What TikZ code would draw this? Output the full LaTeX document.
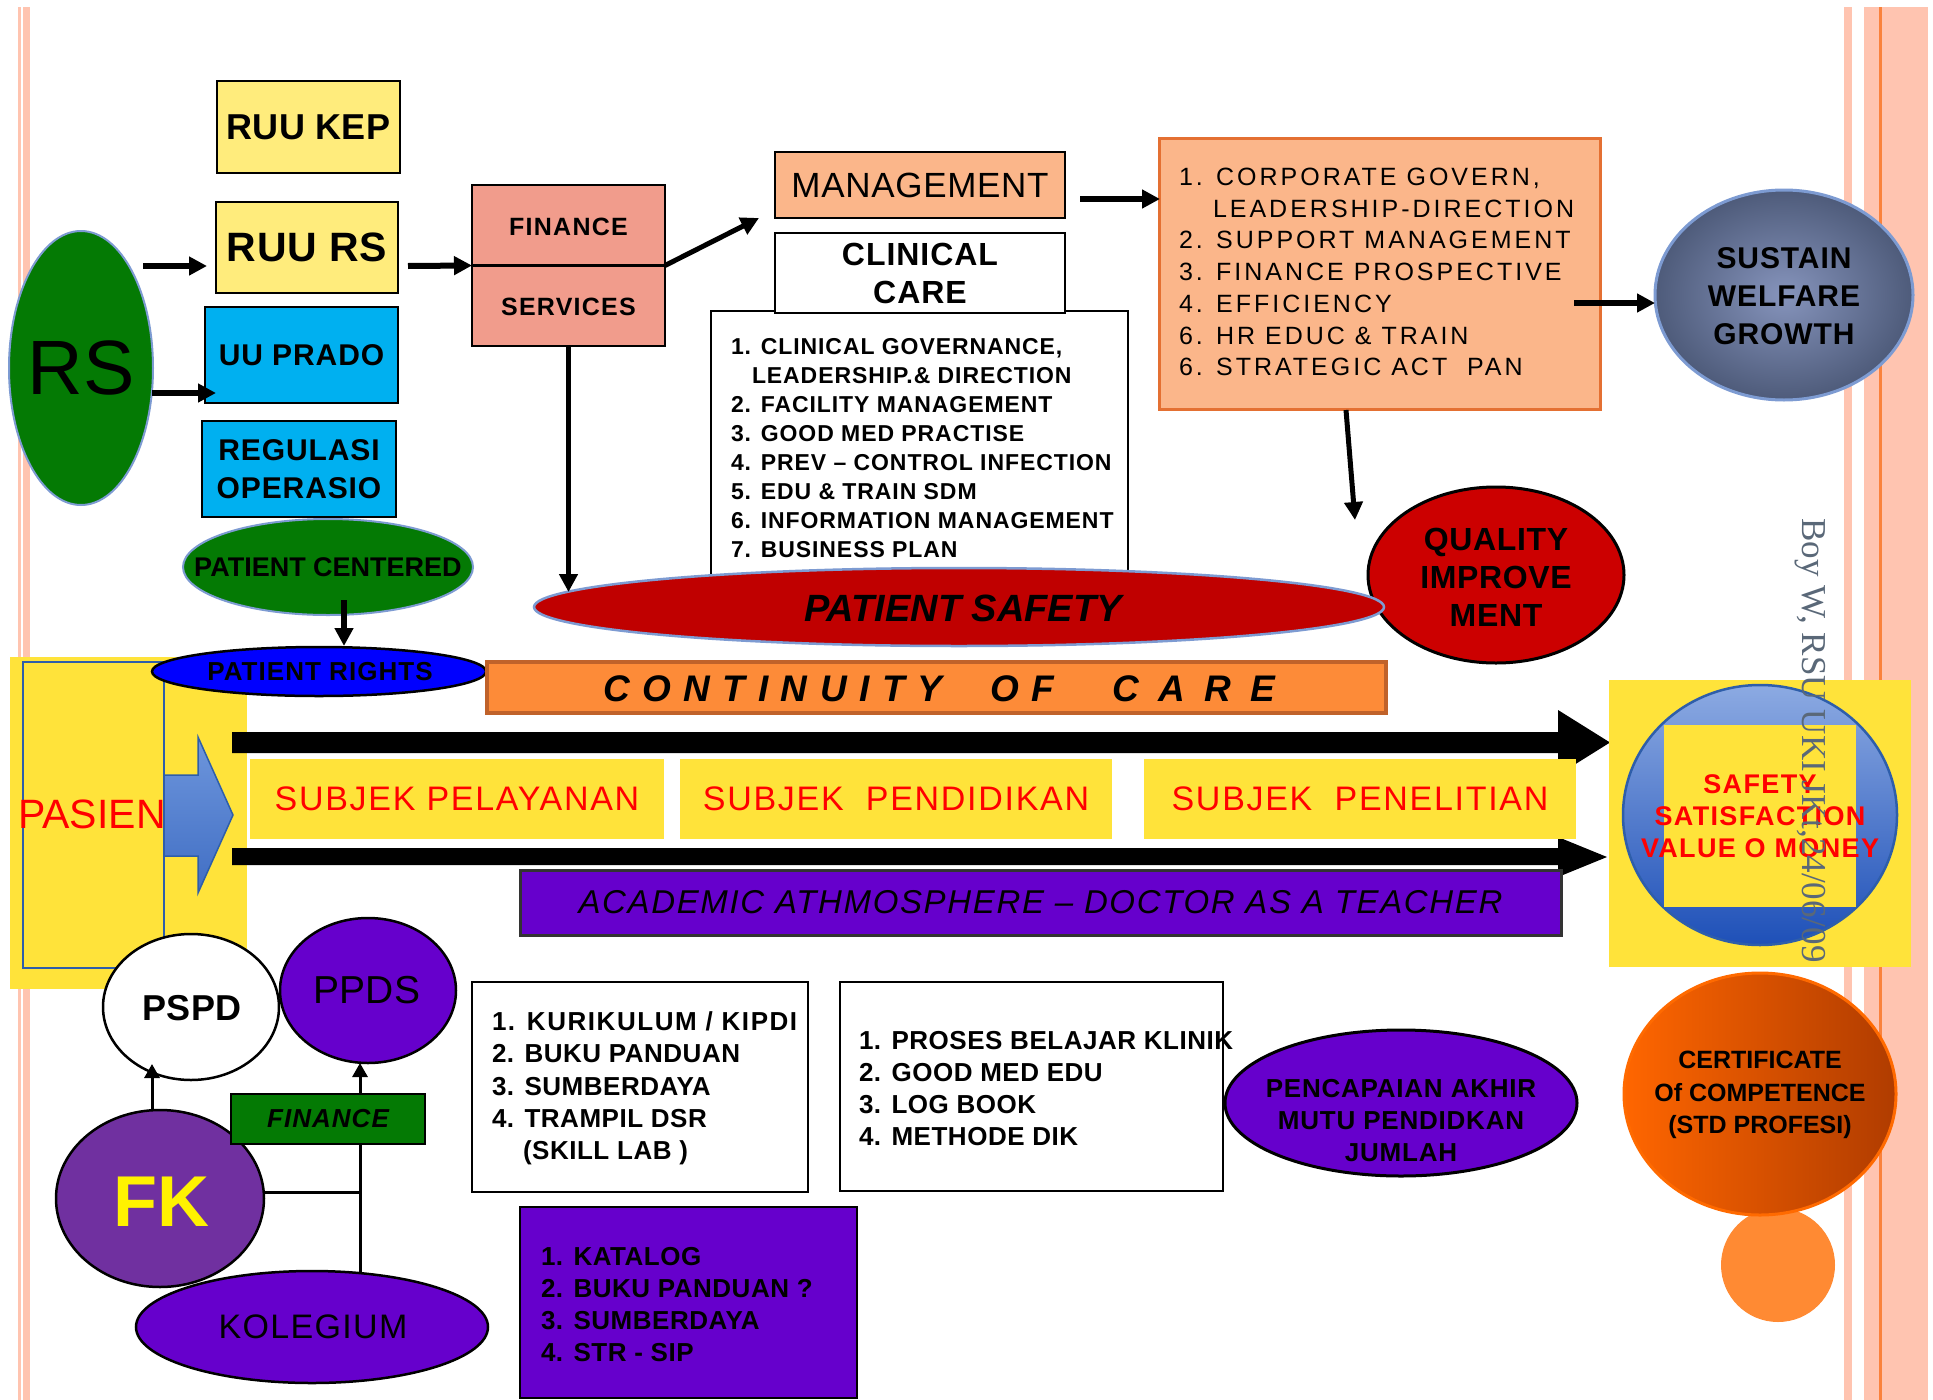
\documentclass[tikz,border=0pt]{standalone}
\usepackage{fontspec}
\setmainfont{Liberation Sans}
\newfontfamily\serifw{Liberation Serif}
\usetikzlibrary{shapes.geometric,arrows.meta}
\newcommand{\fsz}[2]{\fontsize{#1pt}{#2pt}\selectfont}
\newcommand{\lsp}[1]{\addfontfeature{LetterSpace=#1}}
\definecolor{stripPink}{RGB}{255,196,176}
\definecolor{stripOrange}{RGB}{250,130,60}
\definecolor{ruuYellow}{RGB}{255,236,124}
\definecolor{cyanBox}{RGB}{0,176,240}
\definecolor{salmon}{RGB}{241,156,140}
\definecolor{peach}{RGB}{251,182,138}
\definecolor{peachEdge}{RGB}{228,112,50}
\definecolor{dkGreen}{RGB}{4,122,4}
\definecolor{edgeBlue}{RGB}{125,155,210}
\definecolor{sustLight}{RGB}{134,148,188}
\definecolor{sustDark}{RGB}{78,91,122}
\definecolor{qualRed}{RGB}{204,0,0}
\definecolor{psRed}{RGB}{192,0,0}
\definecolor{brightYellow}{RGB}{255,227,58}
\definecolor{contOrange}{RGB}{253,139,56}
\definecolor{contEdge}{RGB}{192,98,42}
\definecolor{purp}{RGB}{102,0,204}
\definecolor{fkPurple}{RGB}{112,48,160}
\definecolor{blueTop}{RGB}{110,150,220}
\definecolor{blueBot}{RGB}{64,110,196}
\definecolor{blueEdge}{RGB}{46,94,170}
\definecolor{circTop}{RGB}{140,170,226}
\definecolor{circBot}{RGB}{30,80,184}
\definecolor{certLight}{RGB}{255,102,0}
\definecolor{certDark}{RGB}{176,60,0}
\definecolor{certEdge}{RGB}{255,106,0}
\definecolor{smallOrange}{RGB}{255,138,51}
\definecolor{stampGray}{RGB}{90,104,120}
\definecolor{pureBlue}{RGB}{0,0,255}
\begin{document}
\begin{tikzpicture}[x=1pt,y=-1pt,
  every node/.style={inner sep=0pt,outer sep=0pt},
  bigarrow/.style={line width=6pt,-{Triangle[length=18pt,width=18pt]}},
  thinarrow/.style={line width=3pt,-{Triangle[length=14pt,width=15pt]}},
  sqbox/.style={rectangle,draw=black,line width=2.5pt},
  oval/.style={ellipse,draw=black,line width=2.5pt},
]
\useasboundingbox (0,0) rectangle (1933,1400);
\fill[white] (0,0) rectangle (1933,1400);
% side strips
\fill[stripPink] (18,7) rectangle (21,1400);
\fill[stripPink] (23,7) rectangle (30,1400);
\fill[stripPink] (1844,7) rectangle (1852,1400);
\fill[stripPink] (1864,7) rectangle (1928,1400);
\fill[stripOrange] (1879,7) rectangle (1882,1400);

% ---- top left
\node[ellipse,draw=edgeBlue,line width=2pt,fill=dkGreen,minimum width=144pt,minimum height=274pt] (rs) at (81,368) {};
\node[font=\fsz{77}{77}] (rstxt) at (81,368) {RS};
\node[sqbox,fill=ruuYellow,minimum width=183pt,minimum height=92pt,font=\fsz{36}{36}\bfseries\lsp{1}] (ruukep) at (308.5,127) {RUU KEP};
\node[sqbox,fill=ruuYellow,minimum width=182pt,minimum height=91pt,font=\fsz{41}{41}\bfseries\lsp{2}] (ruurs) at (307,247.5) {RUU RS};
\node[sqbox,fill=cyanBox,minimum width=193pt,minimum height=96pt,font=\fsz{30}{30}\bfseries\lsp{3}] (uuprado) at (301.5,355) {UU PRADO};
\node[sqbox,fill=cyanBox,minimum width=194pt,minimum height=96pt,align=center,font=\fsz{30}{38}\bfseries\lsp{3}] (regulasi) at (299,469) {REGULASI\\OPERASIO};

\node[sqbox,fill=salmon,minimum width=193pt,minimum height=161pt] (finserv) at (568.5,265.5) {};
\draw[line width=2.5pt] (finserv.west) -- (finserv.east);
\node[font=\fsz{25}{25}\bfseries\lsp{5}] (fintxt) at (568.5,227) {FINANCE};
\node[font=\fsz{25}{25}\bfseries\lsp{5}] (servtxt) at (568.5,307) {SERVICES};

\coordinate (rsA) at (143,266);
\coordinate (ruuIn) at (207,266);
\draw[bigarrow] (rsA) -- (ruuIn);
\coordinate (rsB) at (152,393);
\coordinate (pradoIn) at (216,393);
\draw[bigarrow] (rsB) -- (pradoIn);
\coordinate (ruuOut) at (408,266);
\draw[bigarrow] (ruuOut) -- (finserv.west);

% ---- management / clinical
\node[sqbox,fill=peach,minimum width=290pt,minimum height=66pt,font=\fsz{35}{35}\lsp{2}] (mgmt) at (920,185) {MANAGEMENT};
\coordinate (mgmtIn) at (759,218);
\draw[bigarrow,line width=5pt] (finserv.east) -- (mgmtIn);

\node[rectangle,draw=black,line width=2pt,fill=white,minimum width=417pt,minimum height=289pt] (clinlist) at (919.5,455.5) {};
\node[anchor=west,align=left,font=\fsz{23}{29.1}\bfseries\lsp{4}] (clintxt) at (731,448) {1. CLINICAL GOVERNANCE,\\\hspace*{21pt}LEADERSHIP.\& DIRECTION\\2. FACILITY MANAGEMENT\\3. GOOD MED PRACTISE\\4. PREV – CONTROL INFECTION\\5. EDU \& TRAIN SDM\\6. INFORMATION MANAGEMENT\\7. BUSINESS PLAN};
\node[sqbox,fill=white,minimum width=290pt,minimum height=80pt,align=center,font=\fsz{32}{38}\bfseries\lsp{3}] (clincare) at (920,273) {CLINICAL\\CARE};

% ---- corporate box
\node[rectangle,draw=peachEdge,line width=3pt,fill=peach,minimum width=441pt,minimum height=271pt] (corp) at (1379.5,273.5) {};
\node[anchor=west,align=left,font=\fsz{25}{31.7}\lsp{12}] (corptxt) at (1179,272) {1. CORPORATE GOVERN,\\\hspace*{34pt}LEADERSHIP-DIRECTION\\2. SUPPORT MANAGEMENT\\3. FINANCE PROSPECTIVE\\4. EFFICIENCY\\6. HR EDUC \& TRAIN\\6. STRATEGIC ACT\ \ PAN};
\coordinate (corpMg) at (1080,199);
\coordinate (corpIn) at (1160,199);
\draw[bigarrow] (corpMg) -- (corpIn);

\node[ellipse,inner color=sustLight,outer color=sustDark,draw=edgeBlue,line width=3pt,minimum width=258pt,minimum height=210pt] (sustain) at (1784,295) {};
\node[align=center,font=\fsz{30}{38}\bfseries\lsp{3}] (sustxt) at (1784,296) {SUSTAIN\\WELFARE\\GROWTH};
\coordinate (corpE) at (1574,303);
\draw[bigarrow] (corpE) -- (sustain.west |- corpE);

\node[oval,fill=qualRed,line width=3pt,minimum width=256pt,minimum height=176pt] (quality) at (1496,575) {};
\node[align=center,font=\fsz{32}{38}\bfseries\lsp{2}] (qualtxt) at (1496,577) {QUALITY\\IMPROVE\\MENT};
\coordinate (corpS) at (1346,410);
\coordinate (qualIn) at (1355,520);
\draw[bigarrow,line width=5pt] (corpS) -- (qualIn);

\node[ellipse,draw=edgeBlue,line width=2.5pt,fill=psRed,minimum width=850pt,minimum height=78pt] (psafety) at (959,607) {};
\node[font=\fsz{38}{38}\bfseries\itshape] (pstxt) at (963,608) {PATIENT SAFETY};
\coordinate (psTop) at (568.5,592);
\draw[bigarrow,line width=5pt] (finserv.south) -- (psTop);

% ---- patient left block
\fill[brightYellow] (10,657) rectangle (247,989);
\node[rectangle,draw=blueEdge,line width=1.5pt,minimum width=141pt,minimum height=306pt] (pasienbox) at (93.5,815) {};
\node[text=red,font=\fsz{41}{41}] (pasien) at (92,814) {PASIEN};
\shade[top color=blueTop,bottom color=blueBot,draw=blueEdge,line width=1.5pt] (164,775) -- (198,775) -- (198,737) -- (233,815) -- (198,893) -- (198,856) -- (164,856) -- cycle;

\node[ellipse,draw=edgeBlue,line width=2pt,fill=dkGreen,minimum width=290pt,minimum height=96pt] (pcentered) at (328,567) {};
\node[font=\fsz{27}{27}\bfseries] (pctxt) at (328,567) {PATIENT CENTERED};
\node[oval,fill=pureBlue,minimum width=334pt,minimum height=49pt] (prights) at (319,671.5) {};
\node[font=\fsz{26}{26}\bfseries\lsp{4}] (prtxt) at (320,671.5) {PATIENT RIGHTS};
\coordinate (pcOut) at (344,600);
\coordinate (prIn) at (344,646);
\draw[bigarrow] (pcOut) -- (prIn);

% ---- continuity of care
\node[rectangle,draw=contEdge,line width=3.5pt,fill=contOrange,minimum width=899pt,minimum height=51pt] (continuity) at (936.5,687.5) {};
\node[anchor=west,font=\fsz{37}{37}\bfseries\itshape] (conttxt) at (603,689) {{\lsp{34}CONTINUITY}\hspace{48pt}{\lsp{34}OF}\hspace{58pt}{\lsp{52}CARE}};

% ---- big black arrows
\fill[black] (232,732) -- (1558,732) -- (1558,710) -- (1610,742.5) -- (1558,775) -- (1558,753) -- (232,753) -- cycle;
\fill[black] (232,848) -- (1558,848) -- (1558,837) -- (1607,857) -- (1558,877) -- (1558,865) -- (232,865) -- cycle;

\node[fill=brightYellow,minimum width=414pt,minimum height=80pt,text=red,font=\fsz{34}{34}\lsp{5}] (subj1) at (457,799) {SUBJEK PELAYANAN};
\node[fill=brightYellow,minimum width=432pt,minimum height=80pt,text=red,font=\fsz{34}{34}\lsp{5}] (subj2) at (896,799) {SUBJEK\ \ PENDIDIKAN};
\node[fill=brightYellow,minimum width=432pt,minimum height=80pt,text=red,font=\fsz{34}{34}\lsp{5}] (subj3) at (1360,799) {SUBJEK\ \ PENELITIAN};

\node[rectangle,draw=black!80,line width=3pt,fill=purp,minimum width=1041pt,minimum height=65pt,font=\fsz{33}{33}\itshape\lsp{5}] (academic) at (1040.5,902.5) {ACADEMIC ATHMOSPHERE – DOCTOR AS A TEACHER};

% ---- right value square
\node[fill=brightYellow,minimum width=302pt,minimum height=287pt] (valsq) at (1760,823.5) {};
\node[ellipse,top color=circTop,bottom color=circBot,draw=blueEdge,line width=2.5pt,minimum width=274pt,minimum height=260pt] (valcirc) at (1760,815) {};
\node[fill=brightYellow,minimum width=192pt,minimum height=182pt] (valin) at (1760,816) {};
\node[text=red,align=center,font=\fsz{27}{32}\bfseries\lsp{5}] (valtxt) at (1760,816) {SAFETY\\SATISFACTION\\VALUE O MONEY};

% ---- certificate
\node[circle,fill=smallOrange,minimum size=114pt] (smallc) at (1778,1265) {};
\node[ellipse,left color=certLight,right color=certDark,draw=certEdge,line width=3pt,minimum width=272pt,minimum height=242pt] (cert) at (1760,1094) {};
\node[align=center,font=\fsz{25}{32.5}\bfseries] (certtxt) at (1760,1095) {CERTIFICATE\\Of COMPETENCE\\(STD PROFESI)};

% ---- FK group
\node[oval,fill=white,minimum width=176pt,minimum height=146pt] (pspd) at (191,1007) {};
\node[font=\fsz{36}{36}\bfseries] (pspdtxt) at (192,1008) {PSPD};
\node[oval,fill=purp,minimum width=176pt,minimum height=145pt] (ppds) at (368,990.5) {};
\node[font=\fsz{39}{39}] (ppdstxt) at (367,990) {PPDS};
\node[oval,fill=fkPurple,minimum width=208pt,minimum height=177pt] (fk) at (160,1198.5) {};
\node[text=yellow,font=\fsz{72}{72}\bfseries] (fktxt) at (161,1202) {FK};
\node[sqbox,fill=dkGreen,minimum width=194pt,minimum height=50pt,font=\fsz{26}{26}\bfseries\itshape\lsp{4}] (fingreen) at (328,1119) {FINANCE};
\node[oval,fill=purp,minimum width=352pt,minimum height=112pt] (kolegium) at (312,1327) {};
\node[font=\fsz{34}{34}\lsp{4}] (koltxt) at (313,1327) {KOLEGIUM};

\coordinate (fkTop) at (152,1111);
\coordinate (pspdIn) at (152,1064);
\draw[thinarrow] (fkTop) -- (pspdIn);
\coordinate (fgTop) at (360,1094);
\draw[thinarrow] (fgTop) -- (ppds.south -| fgTop);
\coordinate (fgBot) at (360,1144);
\coordinate (kolTop) at (360,1273);
\draw[line width=3pt] (kolTop) -- (fgBot);
\coordinate (fkE) at (263,1192);
\coordinate (fkJoin) at (360,1192);
\draw[line width=3pt] (fkE) -- (fkJoin);

% ---- lists
\node[sqbox,fill=white,minimum width=336pt,minimum height=210pt] (kurbox) at (640,1087) {};
\node[anchor=west,align=left,font=\fsz{26}{32.3}\bfseries\lsp{2}] (kurtxt) at (492,1088.5) {{\lsp{6}1. KURIKULUM / KIPDI}\\2. BUKU PANDUAN\\3. SUMBERDAYA\\4. TRAMPIL DSR\\\hspace*{31pt}(SKILL LAB )};
\node[sqbox,fill=white,minimum width=383pt,minimum height=209pt] (probox) at (1031.5,1086.5) {};
\node[anchor=west,align=left,font=\fsz{26}{32}\bfseries\lsp{2}] (protxt) at (859,1089) {1. PROSES BELAJAR KLINIK\\2. GOOD MED EDU\\3. LOG BOOK\\4. METHODE DIK};
\node[oval,fill=purp,line width=3pt,minimum width=352pt,minimum height=146pt] (pencapaian) at (1401,1103) {};
\node[align=center,font=\fsz{26}{32}\bfseries\lsp{3}] (pentxt) at (1401,1121) {PENCAPAIAN AKHIR\\MUTU PENDIDKAN\\JUMLAH};
\node[sqbox,fill=purp,minimum width=337pt,minimum height=191pt] (katbox) at (688.5,1302.5) {};
\node[anchor=west,align=left,font=\fsz{26}{32}\bfseries\lsp{2}] (kattxt) at (541,1305) {1. KATALOG\\2. BUKU PANDUAN ?\\3. SUMBERDAYA\\4. STR - SIP};

% ---- stamp
\node[rotate=-90,text=stampGray,font=\serifw\fsz{35}{35}] (stamp) at (1810,740.5) {Boy W, RSU UKI JKt,24/06/09};
\end{tikzpicture}
\end{document}
